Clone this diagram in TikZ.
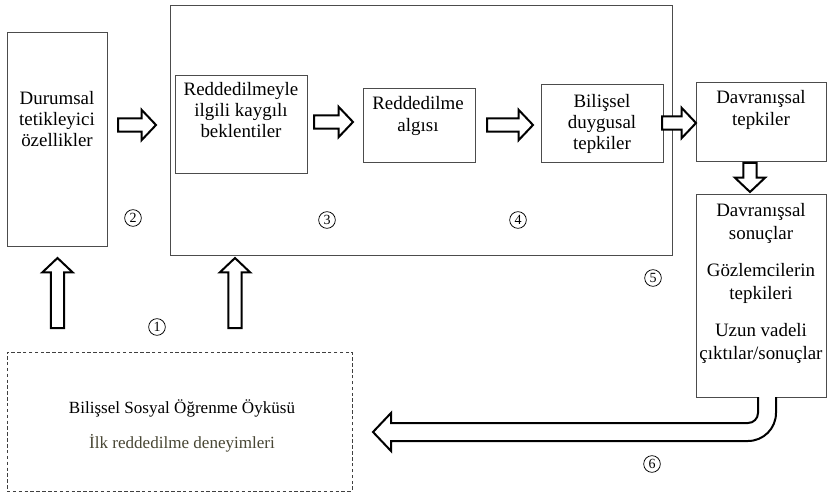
\documentclass[tikz,border=0pt]{standalone}
\usepackage{fontspec}
\setmainfont{Liberation Serif}
\usetikzlibrary{calc,fit}
\definecolor{olivetext}{RGB}{72,70,52}
\newcommand\bsw{4.9pt}
\newcommand\bhw{11.4pt}
\newcommand\bhl{10.8pt}
\newcommand\arrR[2]{\draw[barrow] let \p1=(#1),\p2=(#2) in (\x1,\y1+\bsw) -- (\x2-\bhl,\y1+\bsw) -- (\x2-\bhl,\y1+\bhw) -- (\x2,\y1) -- (\x2-\bhl,\y1-\bhw) -- (\x2-\bhl,\y1-\bsw) -- (\x1,\y1-\bsw) -- cycle;}
\newcommand\arrU[2]{\draw[barrow] let \p1=(#1),\p2=(#2) in (\x1-\bsw,\y1) -- (\x1-\bsw,\y2-\bhl) -- (\x1-\bhw,\y2-\bhl) -- (\x1,\y2) -- (\x1+\bhw,\y2-\bhl) -- (\x1+\bsw,\y2-\bhl) -- (\x1+\bsw,\y1) -- cycle;}
\newcommand\arrD[2]{\draw[barrow] let \p1=(#1),\p2=(#2) in (\x1-\bsw,\y1) -- (\x1-\bsw,\y2+\bhl) -- (\x1-\bhw,\y2+\bhl) -- (\x1,\y2) -- (\x1+\bhw,\y2+\bhl) -- (\x1+\bsw,\y2+\bhl) -- (\x1+\bsw,\y1) -- cycle;}
\begin{document}
\begin{tikzpicture}[x=0.75pt,y=-0.75pt,
  box/.style={draw=black!70,line width=0.7pt,inner sep=0pt},
  dbox/.style={draw=black!75,line width=0.7pt,dash pattern=on 2.6pt off 1.8pt,inner sep=0pt},
  lbl/.style={font=\fontsize{14.2}{16}\selectfont,align=center,inner sep=0pt},
  lbls/.style={font=\fontsize{12.8}{14}\selectfont,align=center,inner sep=0pt},
  num/.style={circle,draw,line width=0.55pt,inner sep=0pt,minimum size=12.5pt,font=\fontsize{10.5}{10.5}\selectfont},
  barrow/.style={draw=black,line width=1.5pt,fill=white,line join=miter}]
\useasboundingbox (0,0) rectangle (828,495);
% boxes
\node[box,fit={(7,32) (107,246)}] (dur) {};
\node[box,fit={(170,5) (672,255)}] (big) {};
\node[box,fit={(175,75) (307,173)}] (bek) {};
\node[box,fit={(363,88) (475,162)}] (alg) {};
\node[box,fit={(541,84) (663,162)}] (bil) {};
\node[box,fit={(696,82) (826,161)}] (dav) {};
\node[box,fit={(696,194) (826,397)}] (son) {};
\node[dbox,fit={(7,352) (352,491)}] (oyk) {};
% labels
\node[lbl] (tdur) at (57,119) {Durumsal\\tetikleyici\\özellikler};
\node[lbl] (tbek) at (241,110) {Reddedilmeyle\\ilgili kaygılı\\beklentiler};
\node[lbl] (talg) at (418,116) {Reddedilme\\algısı};
\node[lbl] (tbil) at (602,124) {Bilişsel\\duygusal\\tepkiler};
\node[lbl] (tdav) at (761,110) {Davranışsal\\tepkiler};
\node[lbl,font=\fontsize{14.2}{17.25}\selectfont] (tson) at (761,283) {Davranışsal\\sonuçlar\\[10.5pt]Gözlemcilerin\\tepkileri\\[10.5pt]Uzun vadeli\\çıktılar/sonuçlar};
\node[lbls] (toyk) at (182,408) {Bilişsel Sosyal Öğrenme Öyküsü};
\node[lbls,text=olivetext] (tilk) at (182,443) {İlk reddedilme deneyimleri};
% circled numbers
\node[num] (n1) at (157,327) {1};
\node[num] (n2) at (133,218) {2};
\node[num] (n3) at (327,220) {3};
\node[num] (n4) at (518,220) {4};
\node[num] (n5) at (653,278) {5};
\node[num] (n6) at (652,464) {6};
% arrow end points
\coordinate (a1s) at (118,125); \coordinate (a1e) at (156,125);
\coordinate (a2s) at (314,122); \coordinate (a2e) at (353,122);
\coordinate (a3s) at (487,125); \coordinate (a3e) at (533,125);
\coordinate (a4s) at (662,123); \coordinate (a4e) at (696,123);
\coordinate (a5s) at (750,163); \coordinate (a5e) at (750,192);
\coordinate (u1s) at (57.5,328); \coordinate (u1e) at (57.5,258);
\coordinate (u2s) at (235,328); \coordinate (u2e) at (235,258);
\arrR{a1s}{a1e}
\arrR{a2s}{a2e}
\arrR{a3s}{a3e}
\arrR{a4s}{a4e}
\arrD{a5s}{a5e}
\arrU{u1s}{u1e}
\arrU{u2s}{u2e}
% U-turn arrow from son to oyk
\coordinate (ui) at (758,397);
\coordinate (uo) at (776,397);
\coordinate (utip) at (373,432);
\draw[barrow] (ui) -- (758,413) .. controls (758,418.5) and (753.5,423) .. (748,423) -- (391,423) -- (391,413) -- (utip) -- (391,451) -- (391,441) -- (748,441) .. controls (763.5,441) and (776,428.5) .. (776,413) -- (uo);
\end{tikzpicture}
\end{document}
